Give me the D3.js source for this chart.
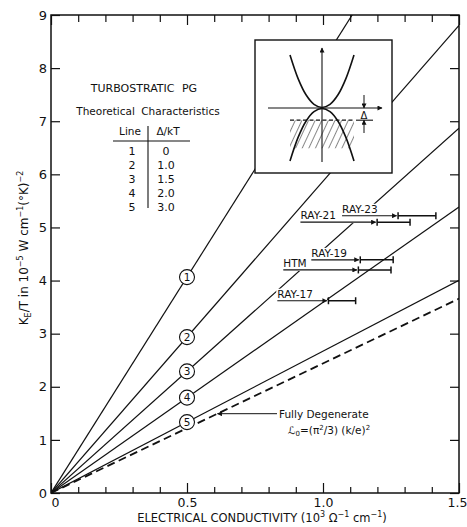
<!DOCTYPE html>
<html><head><meta charset="utf-8">
<script src="https://cdn.jsdelivr.net/npm/d3@7"></script>
<style>
html,body{margin:0;padding:0;background:#fff;}
svg{display:block;}
text{font-family:"DejaVu Sans",sans-serif;fill:#111;}
</style></head><body>
<svg id="chart" width="467" height="527"></svg>
<script>
// Theoretical characteristics: K_E/T = slope * sigma, one line per gap value
const lineIds = ["1", "2", "3", "4", "5"];
const deltaOverKT = ["0", "1.0", "1.5", "2.0", "3.0"];
const lineSlopes = [8.13, 5.87, 4.58, 3.59, 2.67];
const degenerateSlope = 2.44;      // (pi^2/3)(k/e)^2 in these units
const circleSigma = 0.5;           // where the line numbers sit

// Measured samples: K_E/T level, conductivity range, label start
const sampleNames = ["RAY-23", "RAY-21", "RAY-19", "HTM", "RAY-17"];
const sampleKT = [5.22, 5.10, 4.39, 4.20, 3.62];
const sampleSigmaLo = [1.276, 1.199, 1.137, 1.13, 1.02];
const sampleSigmaHi = [1.415, 1.32, 1.258, 1.25, 1.12];
const sampleLabelSigma = [1.07, 0.917, 0.957, 0.854, 0.832];

// Axis ticks
const xTickValues = [0, 0.5, 1.0, 1.5];
const xTickLabels = ["0", "0.5", "1.0", "1.5"];
const xMinorTicks = [0.1, 0.2, 0.3, 0.4, 0.6, 0.7, 0.8, 0.9, 1.1, 1.2, 1.3, 1.4];
const yTickValues = [0, 1, 2, 3, 4, 5, 6, 7, 8, 9];
const yTickLabels = ["0", "1", "2", "3", "4", "5", "6", "7", "8", "9"];

// Band sketch for the inset (wave vector vs energy)
const bandK = [-1, -0.75, -0.5, -0.25, 0, 0.25, 0.5, 0.75, 1];
const upperBand = [1.0, 0.56, 0.25, 0.07, 0.01, 0.07, 0.25, 0.56, 1.0];
const lowerBand = [-1.0, -0.56, -0.25, -0.07, -0.01, -0.07, -0.25, -0.56, -1.0];
const fermiLevel = -0.23;
const hatchFloor = -0.76;

const svg = d3.select("#chart");
const L = 51, R = 459, T = 15, B = 493;
const x = d3.scaleLinear().domain([0, 1.5]).range([L, R]);
const y = d3.scaleLinear().domain([0, 9]).range([B, T]);
const ink = "#111";

const defs = svg.append("defs");
defs.append("clipPath").attr("id", "plotClip")
  .append("rect").attr("x", L).attr("y", T).attr("width", R - L).attr("height", B - T);
defs.append("marker").attr("id", "head").attr("viewBox", "0 0 10 10")
  .attr("refX", 9).attr("refY", 5).attr("markerWidth", 7).attr("markerHeight", 5)
  .attr("markerUnits", "userSpaceOnUse").attr("orient", "auto")
  .append("path").attr("d", "M0,0L10,5L0,10Z").attr("fill", ink);
const hatch = defs.append("pattern").attr("id", "hatch").attr("patternUnits", "userSpaceOnUse")
  .attr("width", 6).attr("height", 6).attr("patternTransform", "rotate(25)");
hatch.append("line").attr("x1", 0).attr("y1", 0).attr("x2", 0).attr("y2", 6)
  .attr("stroke", ink).attr("stroke-width", 1);

// Theory lines through the origin
const plot = svg.append("g").attr("clip-path", "url(#plotClip)");
const line = d3.line().x(d => x(d[0])).y(d => y(d[1]));
plot.selectAll("path.theory").data(lineSlopes).join("path")
  .attr("class", "theory")
  .attr("d", s => line([[0, 0], [1.5, 1.5 * s]]))
  .attr("fill", "none").attr("stroke", ink).attr("stroke-width", 1.2);
plot.append("path")
  .attr("d", line([[0, 0], [1.5, 1.5 * degenerateSlope]]))
  .attr("fill", "none").attr("stroke", ink).attr("stroke-width", 1.8)
  .attr("stroke-dasharray", "8,4.5");

// Axes: ticks drawn inward on all four sides
function noDomain(g) { g.select(".domain").remove(); }
svg.append("g").attr("transform", `translate(0,${B})`)
  .call(d3.axisBottom(x).tickValues(xMinorTicks).tickSize(-6).tickFormat(""))
  .call(noDomain);
const xAxis = svg.append("g").attr("transform", `translate(0,${B})`)
  .call(d3.axisBottom(x).tickValues(xTickValues).tickSize(-10).tickPadding(5)
    .tickFormat((d, i) => xTickLabels[i]))
  .call(noDomain);
xAxis.selectAll("text").attr("font-size", 12.5).attr("font-family", "DejaVu Sans").attr("fill", ink);
xAxis.selectAll(".tick").filter(d => d === 0).select("text").attr("dx", 4);
xAxis.selectAll(".tick").filter(d => d === 1.5).select("text").attr("dx", -2);
svg.append("g").attr("transform", `translate(0,${T})`)
  .call(d3.axisTop(x).tickValues(xMinorTicks).tickSize(-7).tickFormat(""))
  .call(noDomain);
svg.append("g").attr("transform", `translate(0,${T})`)
  .call(d3.axisTop(x).tickValues(xTickValues).tickSize(-10).tickFormat(""))
  .call(noDomain);
const yAxis = svg.append("g").attr("transform", `translate(${L},0)`)
  .call(d3.axisLeft(y).tickValues(yTickValues).tickSize(-9).tickPadding(4)
    .tickFormat((d, i) => yTickLabels[i]))
  .call(noDomain);
yAxis.selectAll("text").attr("font-size", 13).attr("font-family", "DejaVu Sans").attr("fill", ink);
svg.append("g").attr("transform", `translate(${R},0)`)
  .call(d3.axisRight(y).tickValues(yTickValues).tickSize(-9).tickFormat(""))
  .call(noDomain);
svg.selectAll(".tick line").attr("stroke", ink).attr("stroke-width", 1.2);

svg.append("rect").attr("x", L).attr("y", T).attr("width", R - L).attr("height", B - T)
  .attr("fill", "none").attr("stroke", ink).attr("stroke-width", 1.5);

// Axis titles
const yTitle = svg.append("text")
  .attr("transform", "translate(28,248) rotate(-90)")
  .attr("text-anchor", "middle").attr("font-size", 12);
yTitle.append("tspan").text("K");
yTitle.append("tspan").attr("font-size", 8).attr("dy", 3).text("E");
yTitle.append("tspan").attr("dy", -3).text("/T in 10");
yTitle.append("tspan").attr("font-size", 8).attr("dy", -5).text("−5");
yTitle.append("tspan").attr("dy", 5).text(" W cm");
yTitle.append("tspan").attr("font-size", 8).attr("dy", -5).text("−1");
yTitle.append("tspan").attr("dy", 5).text("(°K)");
yTitle.append("tspan").attr("font-size", 8).attr("dy", -5).text("−2");

const xTitle = svg.append("text")
  .attr("x", 262).attr("y", 522).attr("text-anchor", "middle").attr("font-size", 11.5);
xTitle.append("tspan").text("ELECTRICAL CONDUCTIVITY (10");
xTitle.append("tspan").attr("font-size", 8).attr("dy", -5).text("3");
xTitle.append("tspan").attr("dy", 5).text(" Ω");
xTitle.append("tspan").attr("font-size", 8).attr("dy", -5).text("−1");
xTitle.append("tspan").attr("dy", 5).text(" cm");
xTitle.append("tspan").attr("font-size", 8).attr("dy", -5).text("−1");
xTitle.append("tspan").attr("dy", 5).text(")");

// Table of theoretical characteristics
const table = svg.append("g");
table.append("text").attr("x", 144).attr("y", 92).attr("text-anchor", "middle")
  .attr("font-size", 11).attr("word-spacing", 4).text("TURBOSTRATIC PG");
table.append("text").attr("x", 148).attr("y", 115).attr("text-anchor", "middle")
  .attr("font-size", 10.5).attr("font-family", "Liberation Sans").attr("word-spacing", 3)
  .text("Theoretical Characteristics");
table.append("text").attr("x", 130).attr("y", 135).attr("text-anchor", "middle")
  .attr("font-size", 10.5).attr("font-family", "Liberation Sans").text("Line");
table.append("text").attr("x", 168).attr("y", 135).attr("text-anchor", "middle")
  .attr("font-size", 10.5).attr("font-family", "Liberation Sans").text("Δ/kT");
table.append("line").attr("x1", 113).attr("x2", 190).attr("y1", 141).attr("y2", 141)
  .attr("stroke", ink).attr("stroke-width", 1.1);
table.append("line").attr("x1", 148).attr("x2", 148).attr("y1", 126).attr("y2", 208)
  .attr("stroke", ink).attr("stroke-width", 1.1);
lineIds.forEach((id, i) => {
  const yy = 155 + i * 14;
  table.append("text").attr("x", 132).attr("y", yy).attr("text-anchor", "middle")
    .attr("font-size", 11).text(id);
  table.append("text").attr("x", 166).attr("y", yy).attr("text-anchor", "middle")
    .attr("font-size", 11).text(deltaOverKT[i]);
});

// Inset: band structure sketch
const ix = d3.scaleLinear().domain([-1, 1]).range([290, 354]);
const iy = d3.scaleLinear().domain([-1, 1]).range([161, 55]);
const inset = svg.append("g");
inset.append("rect").attr("x", 255).attr("y", 40).attr("width", 137).attr("height", 133)
  .attr("fill", "#fff").attr("stroke", ink).attr("stroke-width", 1.4);
inset.append("rect").attr("x", ix(-1)).attr("y", iy(fermiLevel))
  .attr("width", ix(1) - ix(-1)).attr("height", iy(hatchFloor) - iy(fermiLevel))
  .attr("fill", "url(#hatch)");
const band = d3.line().x((d, i) => ix(bandK[i])).y(d => iy(d)).curve(d3.curveCatmullRom);
[upperBand, lowerBand].forEach(b => inset.append("path").attr("d", band(b))
  .attr("fill", "none").attr("stroke", ink).attr("stroke-width", 1.6));
inset.append("line").attr("x1", ix(0)).attr("x2", ix(0)).attr("y1", 162).attr("y2", 48)
  .attr("stroke", ink).attr("stroke-width", 1.1).attr("marker-end", "url(#head)");
inset.append("line").attr("x1", 268).attr("x2", 382).attr("y1", iy(0)).attr("y2", iy(0))
  .attr("stroke", ink).attr("stroke-width", 1.1).attr("marker-end", "url(#head)");
inset.append("line").attr("x1", ix(-1)).attr("x2", ix(1)).attr("y1", iy(fermiLevel)).attr("y2", iy(fermiLevel))
  .attr("stroke", ink).attr("stroke-width", 1.3).attr("stroke-dasharray", "4,2.5");
inset.append("line").attr("x1", 356).attr("x2", 373).attr("y1", iy(fermiLevel)).attr("y2", iy(fermiLevel))
  .attr("stroke", ink).attr("stroke-width", 1.1);
inset.append("line").attr("x1", 364).attr("x2", 364).attr("y1", 95).attr("y2", iy(0))
  .attr("stroke", ink).attr("stroke-width", 1).attr("marker-end", "url(#head)");
inset.append("line").attr("x1", 364).attr("x2", 364).attr("y1", 133).attr("y2", iy(fermiLevel))
  .attr("stroke", ink).attr("stroke-width", 1).attr("marker-end", "url(#head)");
inset.append("text").attr("x", 364).attr("y", 119).attr("text-anchor", "middle")
  .attr("font-size", 10).text("Δ");

// Samples: label with arrow, then horizontal range bar.
// Paper-white patches go down first so the labels break the lines behind them.
const samples = svg.append("g");
const patches = samples.append("g");
sampleNames.forEach((name, i) => {
  const yy = y(sampleKT[i]);
  const x0 = x(sampleLabelSigma[i]);
  const tip = x(sampleSigmaLo[i]) - 1.5;
  patches.append("rect").attr("x", x0 - 1).attr("y", yy - 12)
    .attr("width", tip - x0 + 1).attr("height", 13).attr("fill", "#fff");
  samples.append("text").attr("x", x0).attr("y", yy - 3).attr("font-size", 10.5).text(name);
  samples.append("line").attr("x1", x0).attr("x2", tip).attr("y1", yy).attr("y2", yy)
    .attr("stroke", ink).attr("stroke-width", 1.2).attr("marker-end", "url(#head)");
  samples.append("line").attr("x1", x(sampleSigmaLo[i])).attr("x2", x(sampleSigmaHi[i]))
    .attr("y1", yy).attr("y2", yy).attr("stroke", ink).attr("stroke-width", 1.5);
  [sampleSigmaLo[i], sampleSigmaHi[i]].forEach(v => samples.append("line")
    .attr("x1", x(v)).attr("x2", x(v)).attr("y1", yy - 3.5).attr("y2", yy + 3.5)
    .attr("stroke", ink).attr("stroke-width", 1.5));
});

// Line numbers on each theory line
const marks = svg.append("g").selectAll("g").data(lineSlopes).join("g")
  .attr("transform", s => `translate(${x(circleSigma)},${y(circleSigma * s)})`);
marks.append("circle").attr("r", 7.5).attr("fill", "#fff").attr("stroke", ink).attr("stroke-width", 1.1);
marks.append("text").attr("text-anchor", "middle").attr("dy", "0.36em").attr("font-size", 10.5)
  .text((s, i) => lineIds[i]);

// Fully degenerate annotation
const degSigma = 0.612;
const degY = y(degSigma * degenerateSlope);
svg.append("line").attr("x1", 277).attr("x2", x(degSigma)).attr("y1", degY).attr("y2", degY)
  .attr("stroke", ink).attr("stroke-width", 1).attr("marker-end", "url(#head)");
svg.append("text").attr("x", 279).attr("y", degY + 4).attr("font-size", 10.5).text("Fully Degenerate");
const formula = svg.append("text").attr("x", 288).attr("y", degY + 20).attr("font-size", 10.5);
formula.append("tspan").attr("font-style", "italic").text("ℒ");
formula.append("tspan").attr("font-size", 7).attr("dy", 2).text("0");
formula.append("tspan").attr("dy", -2).text("=(π");
formula.append("tspan").attr("font-size", 7).attr("dy", -4).text("2");
formula.append("tspan").attr("dy", 4).text("/3) (k/e)");
formula.append("tspan").attr("font-size", 7).attr("dy", -4).text("2");
</script>
</body></html>
